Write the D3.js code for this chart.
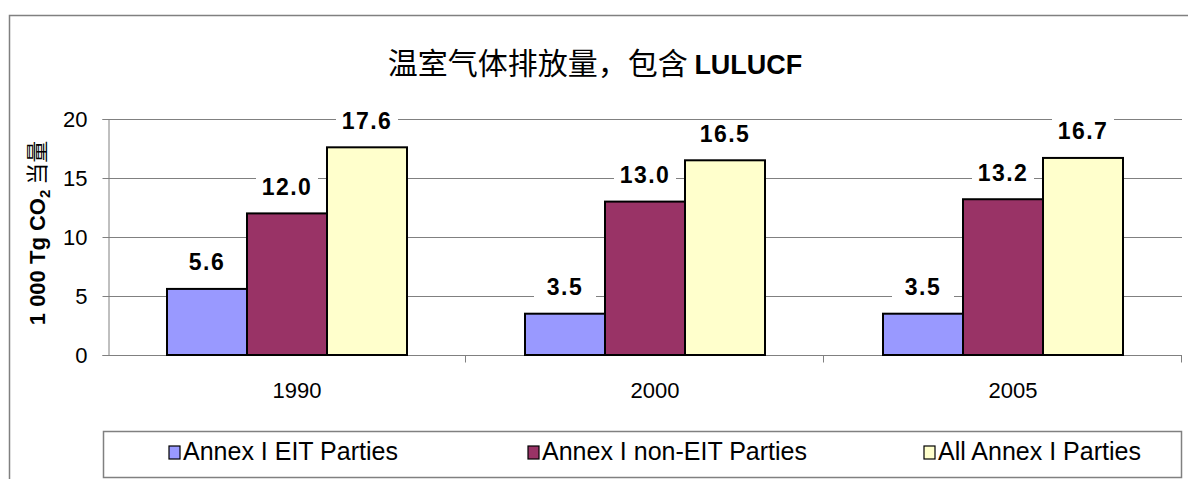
<!DOCTYPE html>
<html>
<head>
<meta charset="utf-8">
<script src="https://cdn.jsdelivr.net/npm/d3@7"></script>
<style>
  body { margin: 0; background: #fff; }
  svg { display: block; font-family: "Liberation Sans", Arial, "Noto Sans CJK SC", sans-serif; }
</style>
</head>
<body>
<svg width="1188" height="479"></svg>
<script>
var years = ["1990", "2000", "2005"];
var seriesNames = ["Annex I EIT Parties", "Annex I non-EIT Parties", "All Annex I Parties"];
var eit = [5.6, 3.5, 3.5];
var nonEit = [12.0, 13.0, 13.2];
var allAnnex = [17.6, 16.5, 16.7];
var yTicks = [0, 5, 10, 15, 20];
var colors = ["#9999ff", "#993366", "#ffffcc"];

var series = [eit, nonEit, allAnnex];

var svg = d3.select("svg"),
    margin = {top: 119, right: 6, bottom: 124, left: 108},
    width = 1188 - margin.left - margin.right,
    height = 479 - margin.top - margin.bottom,
    g = svg.append("g").attr("transform", "translate(" + margin.left + "," + margin.top + ")");

// outer chart frame (runs off the picture on the right and bottom)
svg.append("path")
    .attr("d", "M9.5,479 V15.5 H1188")
    .attr("fill", "none")
    .attr("stroke", "#808080")
    .attr("stroke-width", 1.5);

// title
svg.append("text")
    .attr("x", 595)
    .attr("y", 74)
    .attr("text-anchor", "middle")
    .style("font-size", "30px")
    .style("font-family", "'Noto Sans CJK SC', sans-serif")
    .text("温室气体排放量，包含 ")
  .append("tspan")
    .style("font-family", "'Liberation Sans', Arial, sans-serif")
    .style("font-weight", "bold")
    .style("font-size", "27px")
    .text("LULUCF");

var x0 = d3.scaleBand().domain(years).range([0, width]);
var x1 = d3.scaleBand().domain(d3.range(3)).range([0, 240]);
var y = d3.scaleLinear().domain([0, 20]).range([height, 0]);

// gridlines
g.selectAll(".grid")
    .data(yTicks)
  .enter().append("line")
    .attr("class", "grid")
    .attr("x1", 0)
    .attr("x2", width)
    .attr("y1", function(d) { return Math.round(y(d)) + 0.5; })
    .attr("y2", function(d) { return Math.round(y(d)) + 0.5; })
    .attr("stroke", "#808080")
    .attr("stroke-width", 1.2);

// y axis
var yAxis = g.append("g")
    .attr("transform", "translate(0.5,0)")
    .call(d3.axisLeft(y).tickValues(yTicks).tickSize(6).tickPadding(15));
yAxis.selectAll("path, line").attr("stroke", "#808080");
yAxis.selectAll("text")
    .style("font-size", "22px")
    .style("font-family", "'Liberation Sans', Arial, sans-serif")
    .attr("fill", "#000");

// x axis
var xAxis = g.append("g")
    .attr("transform", "translate(0," + (height + 0.5) + ")");
xAxis.append("line")
    .attr("x1", 0).attr("x2", width)
    .attr("stroke", "#808080");
xAxis.selectAll(".xtick")
    .data(years)
  .enter().append("line")
    .attr("x1", function(d) { return Math.round(x0(d) + x0.bandwidth()) - 0.5; })
    .attr("x2", function(d) { return Math.round(x0(d) + x0.bandwidth()) - 0.5; })
    .attr("y1", 0).attr("y2", 7)
    .attr("stroke", "#808080");
xAxis.selectAll(".xlabel")
    .data(years)
  .enter().append("text")
    .attr("x", function(d) { return x0(d) + x0.bandwidth() / 2 + 10; })
    .attr("y", 42)
    .attr("text-anchor", "middle")
    .style("font-size", "22px")
    .text(function(d) { return d; });

// bars
var groups = g.selectAll(".year")
    .data(years)
  .enter().append("g")
    .attr("class", "year")
    .attr("transform", function(d) { return "translate(" + (x0(d) + (x0.bandwidth() - 240) / 2) + ",0)"; });

groups.selectAll("rect")
    .data(function(d, i) { return series.map(function(s, k) { return {k: k, v: s[i]}; }); })
  .enter().append("rect")
    .attr("x", function(d) { return x1(d.k); })
    .attr("y", function(d) { return y(d.v); })
    .attr("width", x1.bandwidth())
    .attr("height", function(d) { return height - y(d.v); })
    .attr("fill", function(d) { return colors[d.k]; })
    .attr("stroke", "#000")
    .attr("stroke-width", 2);

// value labels with white backing
var labels = groups.selectAll(".lab")
    .data(function(d, i) { return series.map(function(s, k) { return {k: k, v: s[i]}; }); })
  .enter().append("g")
    .attr("class", "lab")
    .attr("transform", function(d) { return "translate(" + (x1(d.k) + x1.bandwidth() / 2) + "," + (y(d.v) - 27) + ")"; });
labels.append("rect")
    .attr("x", -31).attr("y", -13)
    .attr("width", 62).attr("height", 26)
    .attr("fill", "#fff");
labels.append("text")
    .attr("text-anchor", "middle")
    .attr("dy", "0.36em")
    .style("font-size", "23px")
    .style("font-weight", "bold")
    .style("letter-spacing", "1.5px")
    .text(function(d) { return d.v.toFixed(1); });

// y axis title
var yt = svg.append("text")
    .attr("transform", "translate(45,233) rotate(-90)")
    .attr("text-anchor", "middle")
    .style("font-size", "22px")
    .style("font-weight", "bold");
yt.append("tspan").text("1 000 Tg CO");
yt.append("tspan").attr("dy", 5).style("font-size", "15px").text("2");
yt.append("tspan").attr("dy", -5).style("font-weight", "normal")
    .style("font-family", "'Noto Sans CJK SC', sans-serif").text(" 当量");

// legend
svg.append("rect")
    .attr("x", 103.5).attr("y", 431.5)
    .attr("width", 1078).attr("height", 46)
    .attr("fill", "#fff")
    .attr("stroke", "#808080")
    .attr("stroke-width", 1.5);

var legendX = [169, 528, 924];
var leg = svg.selectAll(".legend")
    .data(seriesNames)
  .enter().append("g")
    .attr("class", "legend")
    .attr("transform", function(d, i) { return "translate(" + legendX[i] + ",446)"; });
leg.append("rect")
    .attr("width", 11).attr("height", 13)
    .attr("fill", function(d, i) { return colors[i]; })
    .attr("stroke", "#000")
    .attr("stroke-width", 1.2);
leg.append("text")
    .attr("x", 14)
    .attr("y", 14)
    .style("font-size", "25px")
    .text(function(d) { return d; });
</script>
</body>
</html>
